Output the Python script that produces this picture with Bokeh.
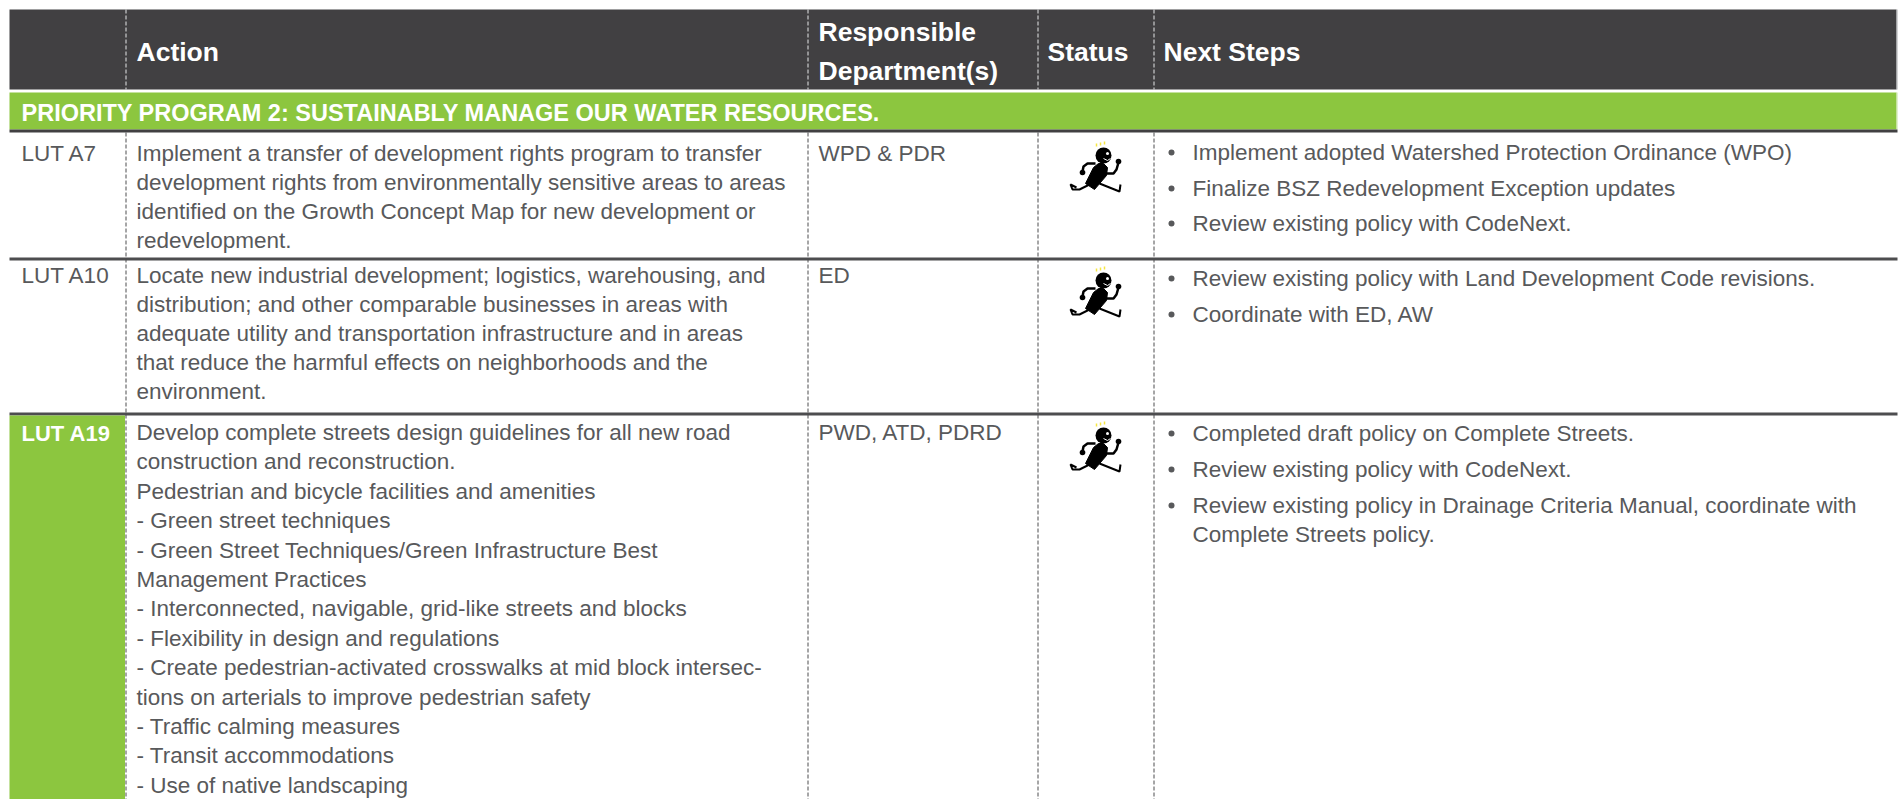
from bokeh.plotting import figure
from bokeh.models import Range1d
from bokeh.core.properties import value
from bokeh.embed import file_html
from bokeh.resources import INLINE

# ---- content
headers = ["Action", "Responsible", "Department(s)", "Status", "Next Steps"]
band = "PRIORITY PROGRAM 2: SUSTAINABLY MANAGE OUR WATER RESOURCES."
row_ids = ["LUT A7", "LUT A10", "LUT A19"]
departments = ["WPD & PDR", "ED", "PWD, ATD, PDRD"]
actions_1 = ["Implement a transfer of development rights program to transfer",
             "development rights from environmentally sensitive areas to areas",
             "identified on the Growth Concept Map for new development or",
             "redevelopment."]
actions_2 = ["Locate new industrial development; logistics, warehousing, and",
             "distribution; and other comparable businesses in areas with",
             "adequate utility and transportation infrastructure and in areas",
             "that reduce the harmful effects on neighborhoods and the",
             "environment."]
actions_3 = ["Develop complete streets design guidelines for all new road",
             "construction and reconstruction.",
             "Pedestrian and bicycle facilities and amenities",
             "- Green street techniques",
             "- Green Street Techniques/Green Infrastructure Best",
             "Management Practices",
             "- Interconnected, navigable, grid-like streets and blocks",
             "- Flexibility in design and regulations",
             "- Create pedestrian-activated crosswalks at mid block intersec-",
             "tions on arterials to improve pedestrian safety",
             "- Traffic calming measures",
             "- Transit accommodations",
             "- Use of native landscaping"]
steps_1 = ["Implement adopted Watershed Protection Ordinance (WPO)",
           "Finalize BSZ Redevelopment Exception updates",
           "Review existing policy with CodeNext."]
steps_2 = ["Review existing policy with Land Development Code revisions.",
           "Coordinate with ED, AW"]
steps_3 = ["Completed draft policy on Complete Streets.",
           "Review existing policy with CodeNext.",
           "Review existing policy in Drainage Criteria Manual, coordinate with"]
steps_3_cont = "Complete Streets policy."

# ---- layout (page pixels)
W, H = 1898, 799
LEFT, RIGHT = 9, 1896
COLS = [125.5, 807.5, 1037.5, 1153.5]
DARK, GREEN, TXT = "#414042", "#8cc63f", "#58595b"
BODY_FONT = value("Liberation Sans")
BODY_SIZE = "22.5px"
HEAD_SIZE = "26.5px"

p = figure(width=W, height=H, x_range=Range1d(0, W), y_range=Range1d(H, 0),
           output_backend="svg", toolbar_location=None, min_border=0,
           outline_line_color=None, background_fill_color="white", border_fill_color="white")
p.axis.visible = False
p.grid.visible = False

def rect(x0, x1, y0, y1, color):
    p.quad(left=[x0], right=[x1], top=[y0], bottom=[y1], fill_color=color, line_color=None)

def put(xs, ys, texts, color=TXT, size=BODY_SIZE, style="normal", font=BODY_FONT):
    p.text(x=xs, y=ys, text=texts, text_color=color, text_font_size=size, text_font_style=style,
           text_font=font, text_baseline="middle", text_align="left")

rect(LEFT, RIGHT, 9, 89, DARK)
rect(RIGHT, RIGHT + 1, 9, 89, "#a7a9ac")
rect(LEFT, RIGHT, 92, 129, GREEN)
rect(RIGHT, RIGHT + 1, 92, 129, "#c6e29f")
rect(LEFT, RIGHT + 1, 129, 132, DARK)
rect(LEFT, RIGHT + 1, 257, 260, "#4d4d4f")
rect(LEFT, RIGHT + 1, 412, 415, "#4d4d4f")
rect(LEFT, 124.5, 415, H, GREEN)

for c in COLS:
    p.line([c, c], [9, 89], line_color="#e6e7e8", line_width=1, line_dash="4 2")
    p.line([c, c], [132, H], line_color="#4d4d4f", line_width=1, line_dash="4 2")

# texts
put([136], [51], [headers[0]], "white", HEAD_SIZE, "bold")
put([818, 818], [31, 70], headers[1:3], "white", HEAD_SIZE, "bold")
put([1047], [51], [headers[3]], "white", HEAD_SIZE, "bold")
put([1163], [51], [headers[4]], "white", HEAD_SIZE, "bold")
put([21], [112], [band], "white", "23.5px", "bold")

put([21, 21], [153, 275], row_ids[:2])
put([21], [433], [row_ids[2]], "white", "22px", "bold")
put([818, 818, 818], [153, 275, 432], departments)

put([136] * 4, [153 + 29 * i for i in range(4)], actions_1)
put([136] * 5, [275 + 29 * i for i in range(5)], actions_2)
put([136] * 13, [432 + 29.4 * i for i in range(13)], actions_3)

ys1, ys2, ys3 = [152, 188, 223], [278, 314], [433, 469, 505]
put([1192] * 3, ys1, steps_1)
put([1192] * 2, ys2, steps_2)
put([1192] * 3, ys3, steps_3)
put([1192], [534], [steps_3_cont])
by = ys1 + ys2 + ys3
p.scatter([1171] * len(by), by, size=6, marker="circle", fill_color=TXT, line_color=None)

# running-figure status icon, offsets from head centre
def icon(cx, cy):
    def X(v): return [cx + a for a in v]
    def Y(v): return [cy + a for a in v]
    p.patch(X([-10, -5, 0, 4, 3, -9, -18]), Y([12, 8, 8, 12, 20, 34, 28]),
            fill_color="black", line_color="black", line_width=1)
    p.circle(x=[cx], y=[cy], radius=8, fill_color="black", line_color=None)
    p.line(X([-8, -16, -20, -21]), Y([8, 8, 11, 16]), line_color="black", line_width=2.5)
    p.line(X([2, 10, 13, 15]), Y([18, 18, 14, 7]), line_color="black", line_width=2.5)
    p.circle(x=[cx - 21, cx + 15], y=[cy + 17, cy + 6], radius=2.8, fill_color="black", line_color=None)
    p.line(X([-14, -24, -31, -33, -27]), Y([29, 34, 34, 29, 32]), line_color="black", line_width=2)
    p.line(X([-4, 16, 17]), Y([28, 36, 29]), line_color="black", line_width=2)
    for dx, top in ((-7, -12), (-3, -13), (1, -14)):
        p.line(X([dx, dx]), Y([top, top + 3]), line_color="#f5e642", line_width=1.5)
    p.circle(x=[cx + 4], y=[cy - 2], radius=1.5, fill_color="white", line_color=None)
    p.line(X([0, 4, 7]), Y([3, 5, 3]), line_color="white", line_width=1)

for head_y in (155, 280, 435):
    icon(1103, head_y)

open("out.html", "w").write(file_html(p, INLINE))
